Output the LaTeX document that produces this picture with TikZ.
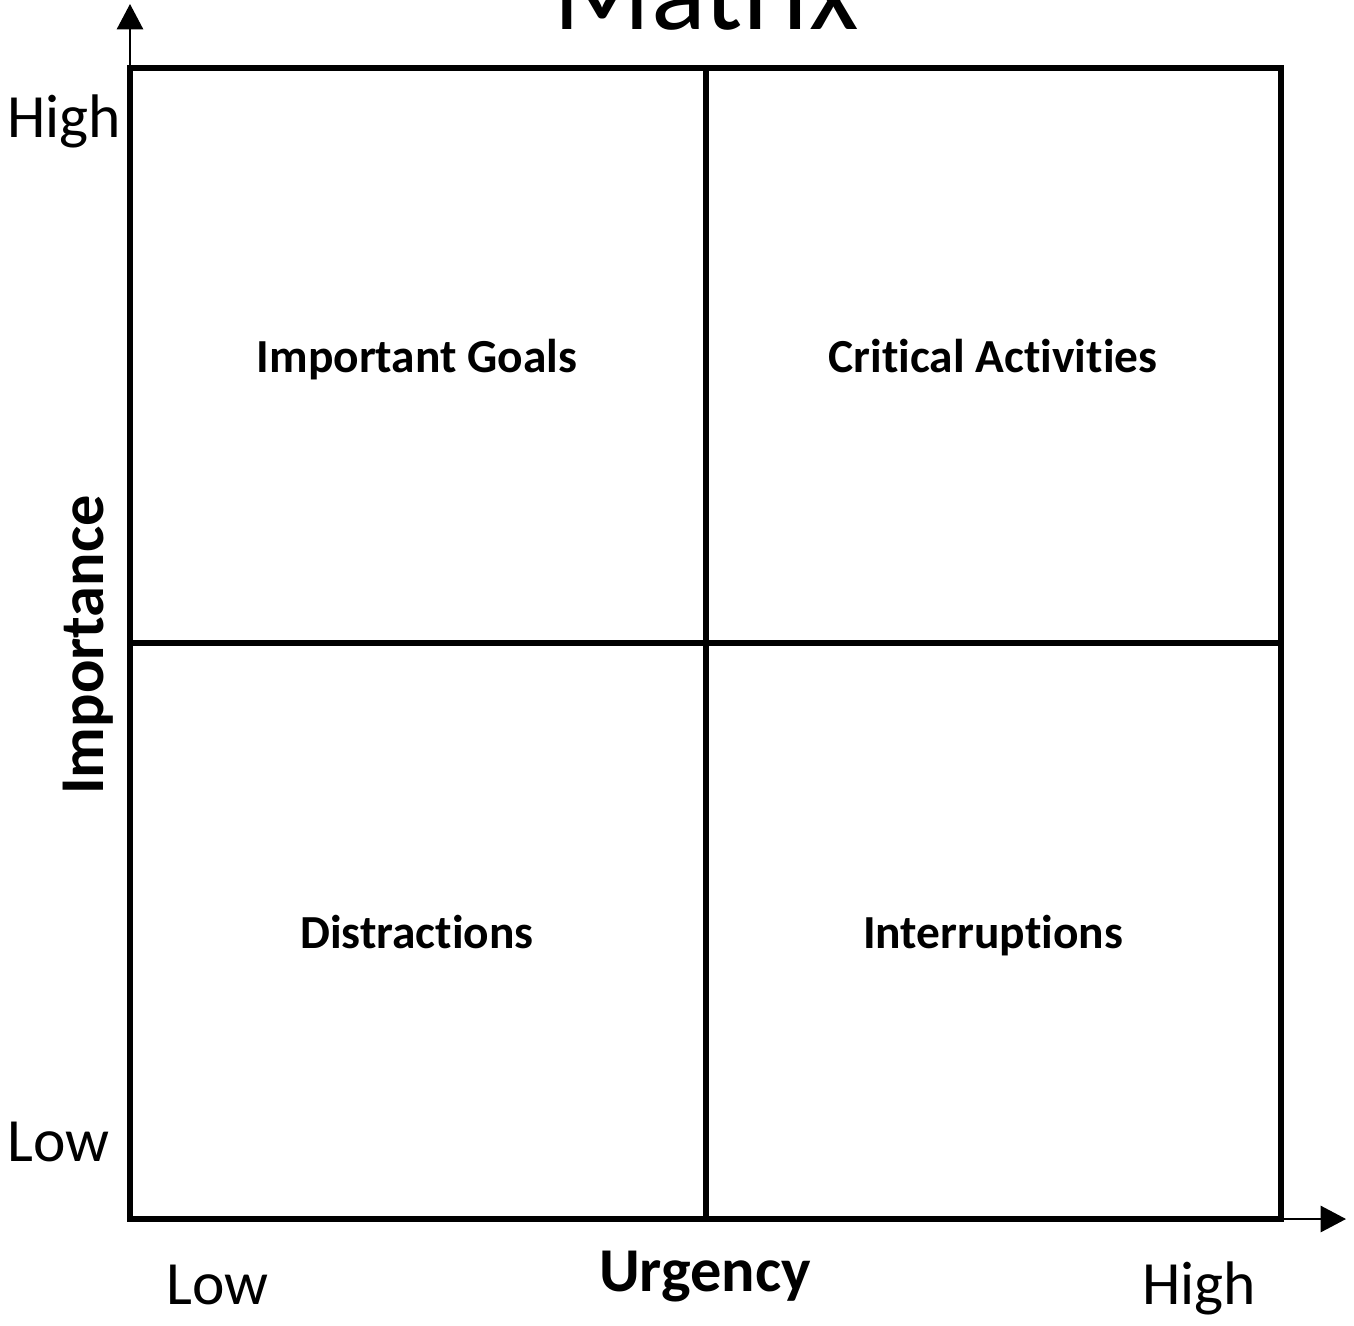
\documentclass[tikz,border=0pt]{standalone}
\usepackage{fontspec}
\setmainfont{Carlito}[Ligatures={NoCommon}]
\usetikzlibrary{arrows.meta}
\tikzset{
  gridline/.style={line width=2.9pt, line join=miter},
  axisline/.style={line width=1.2pt, -{Triangle[length=14.5pt,width=15pt]}},
  ticklabel/.style={font=\fontsize{35}{40}\selectfont, inner sep=0pt},
  axislabel/.style={font=\fontsize{35.5}{40}\selectfont\bfseries, inner sep=0pt},
  quadlabel/.style={font=\fontsize{27}{32}\selectfont\bfseries, inner sep=0pt, anchor=base},
  titlelabel/.style={font=\fontsize{65}{70}\selectfont, inner sep=0pt, anchor=base}
}
\begin{document}
\begin{tikzpicture}[x=0.02cm, y=-0.02cm]
\useasboundingbox (0,0) rectangle (1354,1325);
\clip (0,0) rectangle (1354,1325);
\fill[white] (0,0) rectangle (1354,1325);
% corners
\coordinate (o) at (130,1219);
\coordinate (tl) at (130,68);
\coordinate (br) at (1281,1219);
\coordinate (tr) at (1281,68);
\coordinate (mt) at (706,68);
\coordinate (mb) at (706,1219);
\coordinate (ml) at (130,643);
\coordinate (mr) at (1281,643);
\coordinate (ytip) at (130,4);
\coordinate (xtip) at (1346,1219);
% axes
\draw[axisline] (o) -- (ytip);
\draw[axisline] (br) -- (xtip);
% grid
\draw[gridline] (tl) rectangle (br);
\draw[gridline] (mt) -- (mb);
\draw[gridline] (ml) -- (mr);
% title
\node[titlelabel] (title) at (706,30) {Matrix};
% tick labels
\node[ticklabel, anchor=base west] (yhigh) at (7,137) {High};
\node[ticklabel, anchor=base west] (ylow) at (7,1161) {Low};
\node[ticklabel, anchor=base west] (xlow) at (166,1304) {Low};
\node[ticklabel, anchor=base west] (xhigh) at (1142,1304) {High};
% axis labels
\node[axislabel, anchor=base] (urg) at (705,1291) {Urgency};
\node[axislabel, anchor=base, rotate=90] (imp) at (103,645) {Importance};
% quadrants
\node[quadlabel] (q1) at (417,372) {Important Goals};
\node[quadlabel] (q2) at (993,372) {Critical Activities};
\node[quadlabel] (q3) at (417,948) {Distractions};
\node[quadlabel] (q4) at (993,948) {Interruptions};
\end{tikzpicture}
\end{document}
